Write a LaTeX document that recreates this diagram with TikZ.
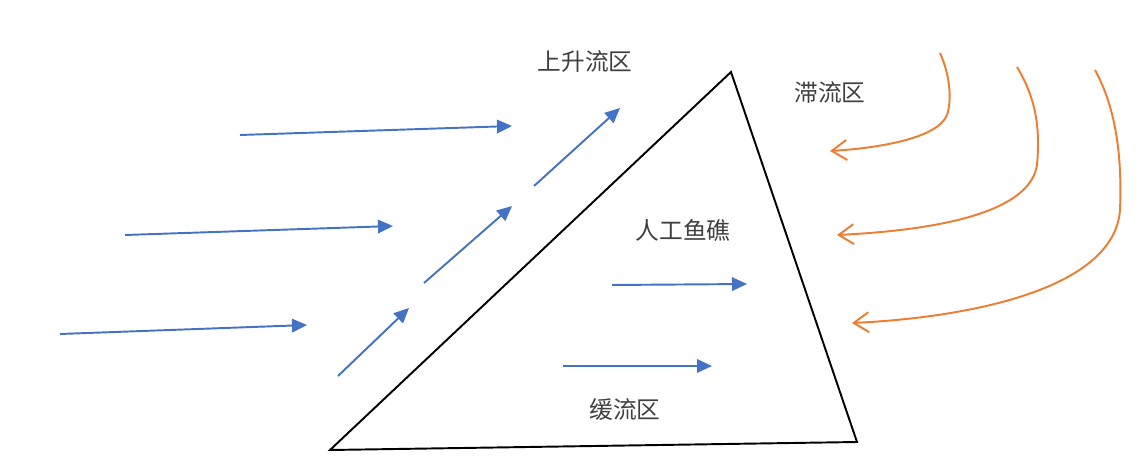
\documentclass[tikz,border=0pt]{standalone}
\usepackage{fontspec}
\newfontfamily\cjk{Noto Sans CJK SC}
\usetikzlibrary{arrows.meta}
\definecolor{flowblue}{HTML}{4472C4}
\definecolor{floworange}{HTML}{ED7D31}
\begin{document}
\begin{tikzpicture}[x=0.02cm, y=-0.02cm, line width=1.1pt,
  inflow/.style = {draw=flowblue, -{Triangle[length=0.3cm, width=0.27cm]}},
  backflow/.style = {draw=floworange, -{Straight Barb[length=0.3cm, width=0.4cm]}},
  zone/.style = {font=\cjk\fontsize{13.5}{16}\selectfont, text=black!75}]
\useasboundingbox (0,0) rectangle (1139,473);
% reef
\coordinate (A) at (330,450);
\coordinate (B) at (731,72);
\coordinate (C) at (857,442);
\draw[black] (A) -- (B) -- (C) -- cycle;
% labels
\node[zone] (up) at (585,62) {上升流区};
\node[zone] (still) at (830,92) {滞流区};
\node[zone] (reef) at (683,230) {人工鱼礁};
\node[zone] (slow) at (625,410) {缓流区};
% incoming flow
\coordinate (i1) at (240,135); \coordinate (o1) at (512,126);
\coordinate (i2) at (125,235); \coordinate (o2) at (393,226);
\coordinate (i3) at (60,334);  \coordinate (o3) at (307,325);
\draw[inflow] (i1) -- (o1);
\draw[inflow] (i2) -- (o2);
\draw[inflow] (i3) -- (o3);
% upwelling
\coordinate (u1) at (338,376); \coordinate (v1) at (409,308);
\coordinate (u2) at (424,283); \coordinate (v2) at (512,206);
\coordinate (u3) at (534,186); \coordinate (v3) at (620,108);
\draw[inflow] (u1) -- (v1);
\draw[inflow] (u2) -- (v2);
\draw[inflow] (u3) -- (v3);
% inside the reef
\coordinate (r1) at (612,285); \coordinate (s1) at (747,284);
\coordinate (r2) at (563,366); \coordinate (s2) at (712,366);
\draw[inflow] (r1) -- (s1);
\draw[inflow] (r2) -- (s2);
% eddies behind the reef
\coordinate (e1) at (940,53);  \coordinate (f1) at (830,151);
\coordinate (e2) at (1017,67); \coordinate (f2) at (837,235);
\coordinate (e3) at (1095,70); \coordinate (f3) at (852,323);
\draw[backflow] (e1) .. controls (950,75) and (952,100) .. (947,115) .. controls (938,138) and (880,148) .. (f1);
\draw[backflow] (e2) .. controls (1037,100) and (1040,130) .. (1037,165) .. controls (1030,212) and (940,230) .. (f2);
\draw[backflow] (e3) .. controls (1117,110) and (1122,160) .. (1120,210) .. controls (1114,292) and (960,318) .. (f3);
\end{tikzpicture}
\end{document}
